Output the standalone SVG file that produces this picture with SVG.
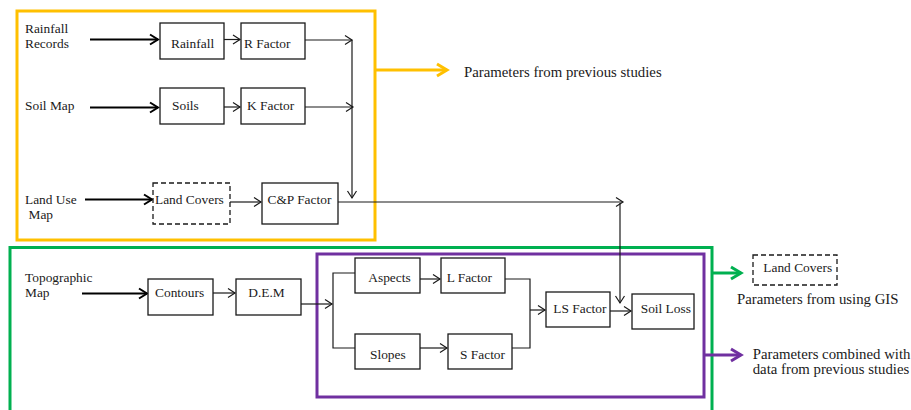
<svg xmlns="http://www.w3.org/2000/svg" width="911" height="410" viewBox="0 0 911 410">
<style>
text{font-family:"Liberation Serif","Times New Roman",serif;font-size:13.4px;fill:#1a1a1a}
.ann{font-size:14.8px}
.box{fill:#fff;stroke:#1a1a1a;stroke-width:1.3}
.dash{fill:#fff;stroke:#1a1a1a;stroke-width:1.3;stroke-dasharray:5,3}
.ln{fill:none;stroke:#1a1a1a;stroke-width:1.2}
.bold{fill:none;stroke:#000;stroke-width:2.2}
.frame{fill:none;stroke-width:3}
</style>
<defs>
<marker id="a" markerUnits="userSpaceOnUse" markerWidth="12" markerHeight="12" refX="8" refY="6" orient="auto" overflow="visible"><path d="M1,1.5 L8,6 L1,10.5" fill="none" stroke="#1a1a1a" stroke-width="1.2"/></marker>
<marker id="ab" markerUnits="userSpaceOnUse" markerWidth="12" markerHeight="12" refX="9" refY="6" orient="auto" overflow="visible"><path d="M1,1 L9,6 L1,11" fill="none" stroke="#000" stroke-width="2"/></marker>
<marker id="ao" markerUnits="userSpaceOnUse" markerWidth="14" markerHeight="14" refX="11" refY="7" orient="auto" overflow="visible"><path d="M1,1 L11,7 L1,13" fill="none" stroke="#FFC000" stroke-width="3"/></marker>
<marker id="ag" markerUnits="userSpaceOnUse" markerWidth="14" markerHeight="14" refX="11" refY="7" orient="auto" overflow="visible"><path d="M1,1 L11,7 L1,13" fill="none" stroke="#00B050" stroke-width="3"/></marker>
<marker id="ap" markerUnits="userSpaceOnUse" markerWidth="14" markerHeight="14" refX="11" refY="7" orient="auto" overflow="visible"><path d="M1,1 L11,7 L1,13" fill="none" stroke="#7030A0" stroke-width="3"/></marker>
</defs>

<g id="frames">
<rect id="frame-previous" class="frame" x="17" y="11" width="358" height="229" stroke="#FFC000"/>
<rect id="frame-gis" class="frame" x="10" y="247.5" width="702" height="180" stroke="#00B050"/>
<rect id="frame-combined" class="frame" x="317" y="254" width="387" height="143" stroke="#7030A0"/>
</g>

<g id="connectors">
<path class="bold" d="M90,39.5 H158" marker-end="url(#ab)"/>
<path class="ln" d="M224,39.5 H240" marker-end="url(#a)"/>
<path class="ln" d="M305,40 H352" marker-end="url(#a)"/>
<path class="bold" d="M90,107.5 H158" marker-end="url(#ab)"/>
<path class="ln" d="M224,107 H240" marker-end="url(#a)"/>
<path class="ln" d="M305,107 H353" marker-end="url(#a)"/>
<path class="ln" d="M352,40 V198" marker-end="url(#a)"/>
<path class="bold" d="M85,199.5 H152" marker-end="url(#ab)"/>
<path class="ln" d="M230,202 H261" marker-end="url(#a)"/>
<path class="ln" d="M338,202 H623" marker-end="url(#a)"/>
<path class="ln" d="M620,203 V303" marker-end="url(#a)"/>
<path class="bold" d="M82,293.5 H147" marker-end="url(#ab)"/>
<path class="ln" d="M213,293 H235" marker-end="url(#a)"/>
<path class="ln" d="M301,304 H332" marker-end="url(#a)"/>
<path class="ln" d="M355,273 H333 V348 H355"/>
<path class="ln" d="M420,279 H440" marker-end="url(#a)"/>
<path class="ln" d="M420,348 H447" marker-end="url(#a)"/>
<path class="ln" d="M505,279 H530 V348 H512"/>
<path class="ln" d="M530,310 H545" marker-end="url(#a)"/>
<path class="ln" d="M610,311 H631" marker-end="url(#a)"/>
<path fill="none" stroke="#FFC000" stroke-width="3" d="M375,70 H447" marker-end="url(#ao)"/>
<path fill="none" stroke="#00B050" stroke-width="3" d="M712,273 H741" marker-end="url(#ag)"/>
<path fill="none" stroke="#7030A0" stroke-width="3" d="M704,355 H741" marker-end="url(#ap)"/>
</g>

<g id="label-rainfall-records"><text x="25" y="33.3">Rainfall</text><text x="25" y="47.7">Records</text></g>
<g id="label-soil-map"><text x="25" y="110">Soil Map</text></g>
<g id="label-land-use-map"><text x="25" y="204">Land Use</text><text x="28.5" y="219.3">Map</text></g>
<g id="label-topographic-map"><text x="25" y="282.3">Topographic</text><text x="25" y="296.7">Map</text></g>

<g id="node-rainfall"><rect class="box" x="160" y="23" width="64" height="36"/><text x="171" y="47.5">Rainfall</text></g>
<g id="node-r-factor"><rect class="box" x="241" y="23" width="64" height="36"/><text x="244" y="47.5">R Factor</text></g>
<g id="node-soils"><rect class="box" x="160" y="88" width="64" height="36"/><text x="172" y="110">Soils</text></g>
<g id="node-k-factor"><rect class="box" x="241" y="88" width="64" height="36"/><text x="247" y="110">K Factor</text></g>
<g id="node-land-covers"><rect class="dash" x="153" y="183" width="77" height="41"/><text x="155" y="204">Land Covers</text></g>
<g id="node-cp-factor"><rect class="box" x="262" y="183" width="76" height="41"/><text x="267.5" y="204">C&amp;P Factor</text></g>
<g id="node-contours"><rect class="box" x="148" y="279" width="65" height="36"/><text x="155" y="296.7">Contours</text></g>
<g id="node-dem"><rect class="box" x="236" y="279" width="65" height="36"/><text x="248.3" y="296.7">D.E.M</text></g>
<g id="node-aspects"><rect class="box" x="355" y="258" width="65" height="35"/><text x="368.3" y="281.7">Aspects</text></g>
<g id="node-l-factor"><rect class="box" x="441" y="258" width="64" height="35"/><text x="446.7" y="281.7">L Factor</text></g>
<g id="node-slopes"><rect class="box" x="355" y="334" width="65" height="35"/><text x="370" y="359">Slopes</text></g>
<g id="node-s-factor"><rect class="box" x="448" y="334" width="64" height="35"/><text x="460" y="359">S Factor</text></g>
<g id="node-ls-factor"><rect class="box" x="546" y="292" width="64" height="35"/><text x="553.3" y="313.3">LS Factor</text></g>
<g id="node-soil-loss"><rect class="box" x="632" y="294" width="62" height="35"/><text x="640.7" y="312.7">Soil Loss</text></g>
<g id="node-gis-land-covers"><rect class="dash" x="753" y="255" width="84" height="30"/><text x="763.3" y="272.3">Land Covers</text></g>

<g id="legend">
<text class="ann" x="464" y="76.7">Parameters from previous studies</text>
<text class="ann" x="737" y="304">Parameters from using GIS</text>
<text class="ann" x="752.7" y="359">Parameters combined with</text>
<text class="ann" x="752.7" y="374">data from previous studies</text>
</g>
</svg>
